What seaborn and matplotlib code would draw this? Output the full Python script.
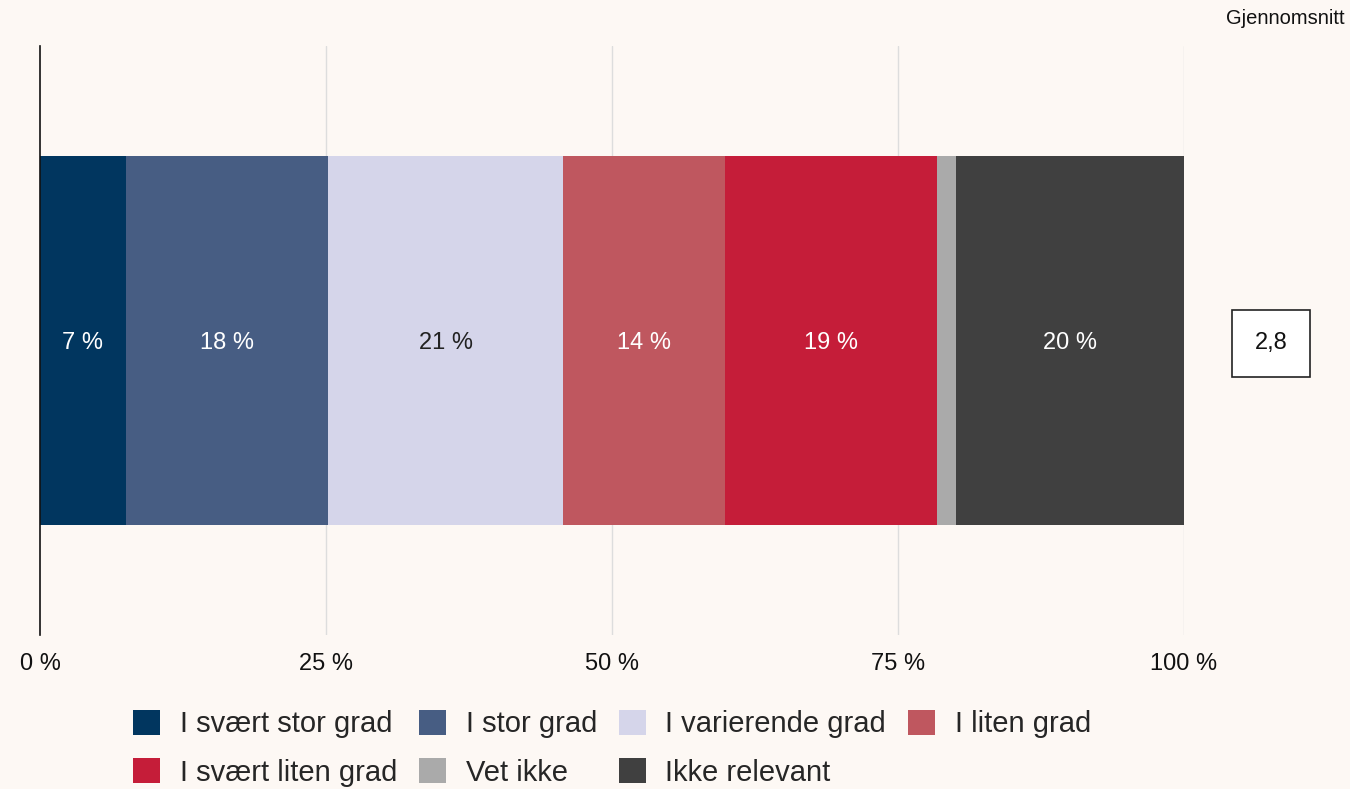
import matplotlib
matplotlib.use("Agg")
import matplotlib.pyplot as plt
from matplotlib.patches import Patch
import seaborn as sns
import pandas as pd
import numpy as np

categories = ["I svært stor grad", "I stor grad", "I varierende grad", "I liten grad",
              "I svært liten grad", "Vet ikke", "Ikke relevant"]
values = [7.5, 17.7, 20.5, 14.2, 18.5, 1.7, 19.9]
labels = ["7 %", "18 %", "21 %", "14 %", "19 %", "", "20 %"]
colors = ["#01365f", "#475d83", "#d5d5ea", "#bf575f", "#c51d39", "#aaaaaa", "#404040"]
label_colors = ["white", "white", "#222222", "white", "white", "white", "white"]
average = "2,8"
tick_vals = [0, 25, 50, 75, 100]
tick_labels = ["0 %", "25 %", "50 %", "75 %", "100 %"]

bg = "#fdf8f4"
sns.set_theme(style="white")
plt.rcParams["font.family"] = ["Liberation Sans", "DejaVu Sans"]

fig = plt.figure(figsize=(13.5, 7.89), dpi=100, facecolor=bg)
ax = fig.add_axes([40/1350, 1-635/789, 1144/1350, 589/789])
ax.set_facecolor(bg)

cum = np.cumsum(values)
df = pd.DataFrame({"cat": categories, "end": cum, "q": ["q"]*len(values)})

# Draw cumulative bars from last to first so earlier ones overlay
for i in range(len(values)-1, -1, -1):
    sns.barplot(data=df.iloc[[i]], x="end", y="q", color=colors[i], orient="h",
                width=0.627, ax=ax, saturation=1, edgecolor="none", linewidth=0, zorder=3)

starts = cum - np.array(values)
for s, v, lab, lc in zip(starts, values, labels, label_colors):
    if lab:
        ax.text(s + v/2, 0.005, lab, ha="center", va="center", color=lc, fontsize=17, zorder=5)

ax.set_xlim(0, 100)
ax.set_ylim(0.5, -0.5)
ax.set_xticks(tick_vals)
ax.set_xticklabels(tick_labels, fontsize=17, color="#111111")
ax.set_yticks([])
ax.set_xlabel("")
ax.set_ylabel("")
ax.tick_params(axis="x", length=0, pad=13)
for x in tick_vals[1:]:
    ax.axvline(x, color="#dddddd", lw=1, zorder=0)
for s in ["top", "right", "bottom"]:
    ax.spines[s].set_visible(False)
ax.spines["left"].set_color("#111111")
ax.spines["left"].set_linewidth(1.2)
ax.spines["left"].set_zorder(6)

ax.text(107.6, 0.005, average, ha="center", va="center", fontsize=17, color="#111111",
        bbox=dict(boxstyle="square,pad=0.95", facecolor="white", edgecolor="#222222", lw=1.2),
        clip_on=False)
fig.text(1345/1350, 1-18/789, "Gjennomsnitt", ha="right", va="center", fontsize=14.5, color="#111111")

# legend filled row-wise: reorder for matplotlib's column-wise fill
order = [0, 4, 1, 5, 2, 6, 3]
handles = [Patch(facecolor=colors[i], edgecolor="none") for i in order]
leg_labels = [categories[i] for i in order]
ax.legend(handles, leg_labels, loc="upper center", bbox_to_anchor=(0.5, -0.083), ncol=4,
          frameon=False, fontsize=21, handlelength=0.92, handleheight=0.92,
          handletextpad=0.68, columnspacing=0.75, labelspacing=0.68)

fig.savefig("out.png", dpi=100, facecolor=bg)
